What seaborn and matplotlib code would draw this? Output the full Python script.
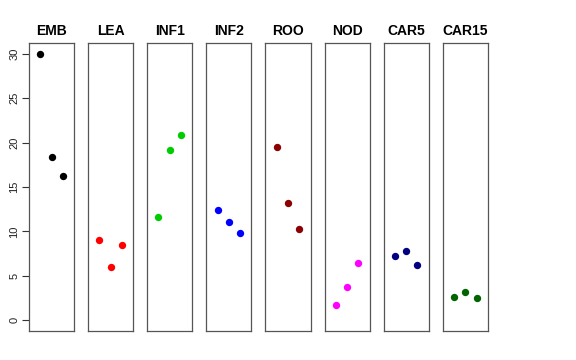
import matplotlib
matplotlib.use("Agg")
import matplotlib.pyplot as plt
import seaborn as sns
import pandas as pd

# tissue panels and the three replicate values in each
tissues = ["EMB", "LEA", "INF1", "INF2", "ROO", "NOD", "CAR5", "CAR15"]
colors = ["#000000", "#FF0000", "#00CD00", "#0000FF", "#8B0000", "#FF00FF", "#000080", "#006400"]
rep = [1, 2, 3]
values = [
    [30.0, 18.4, 16.2],
    [9.05, 6.0, 8.5],
    [11.6, 19.2, 20.8],
    [12.4, 11.1, 9.8],
    [19.5, 13.2, 10.3],
    [1.7, 3.8, 6.5],
    [7.25, 7.8, 6.2],
    [2.6, 3.2, 2.5],
]

sns.set_style("white")
plt.rcParams["font.family"] = ["Liberation Sans", "DejaVu Sans"]

fig, axes = plt.subplots(1, len(tissues), figsize=(5.76, 3.6), dpi=100, sharey=True)
fig.subplots_adjust(left=0.0503, right=0.847, bottom=0.0806, top=0.8806, wspace=0.31)

for i, (ax, name) in enumerate(zip(axes, tissues)):
    df = pd.DataFrame({"rep": rep, "value": values[i]})
    sns.scatterplot(data=df, x="rep", y="value", ax=ax, color=colors[i],
                    s=28, linewidth=0, legend=False)
    ax.set_xlim(0, 4)
    ax.set_ylim(-1.2, 31.2)
    ax.set_xticks([])
    ax.set_xlabel("")
    ax.set_ylabel("")
    ax.set_title(name, fontsize=10, fontweight="bold", color="black", pad=6)
    for sp in ax.spines.values():
        sp.set_visible(True)
        sp.set_color("#555555")
        sp.set_linewidth(0.9)
    if i == 0:
        ax.set_yticks([0, 5, 10, 15, 20, 25, 30])
        ax.tick_params(axis="y", left=True, length=5, width=0.8, color="#333333",
                       labelsize=8, labelcolor="#222222", pad=2)
        for lab in ax.get_yticklabels():
            lab.set_rotation(90)
            lab.set_va("center")
    else:
        ax.tick_params(axis="y", left=False, labelleft=False)

fig.savefig("out.png", dpi=100)
